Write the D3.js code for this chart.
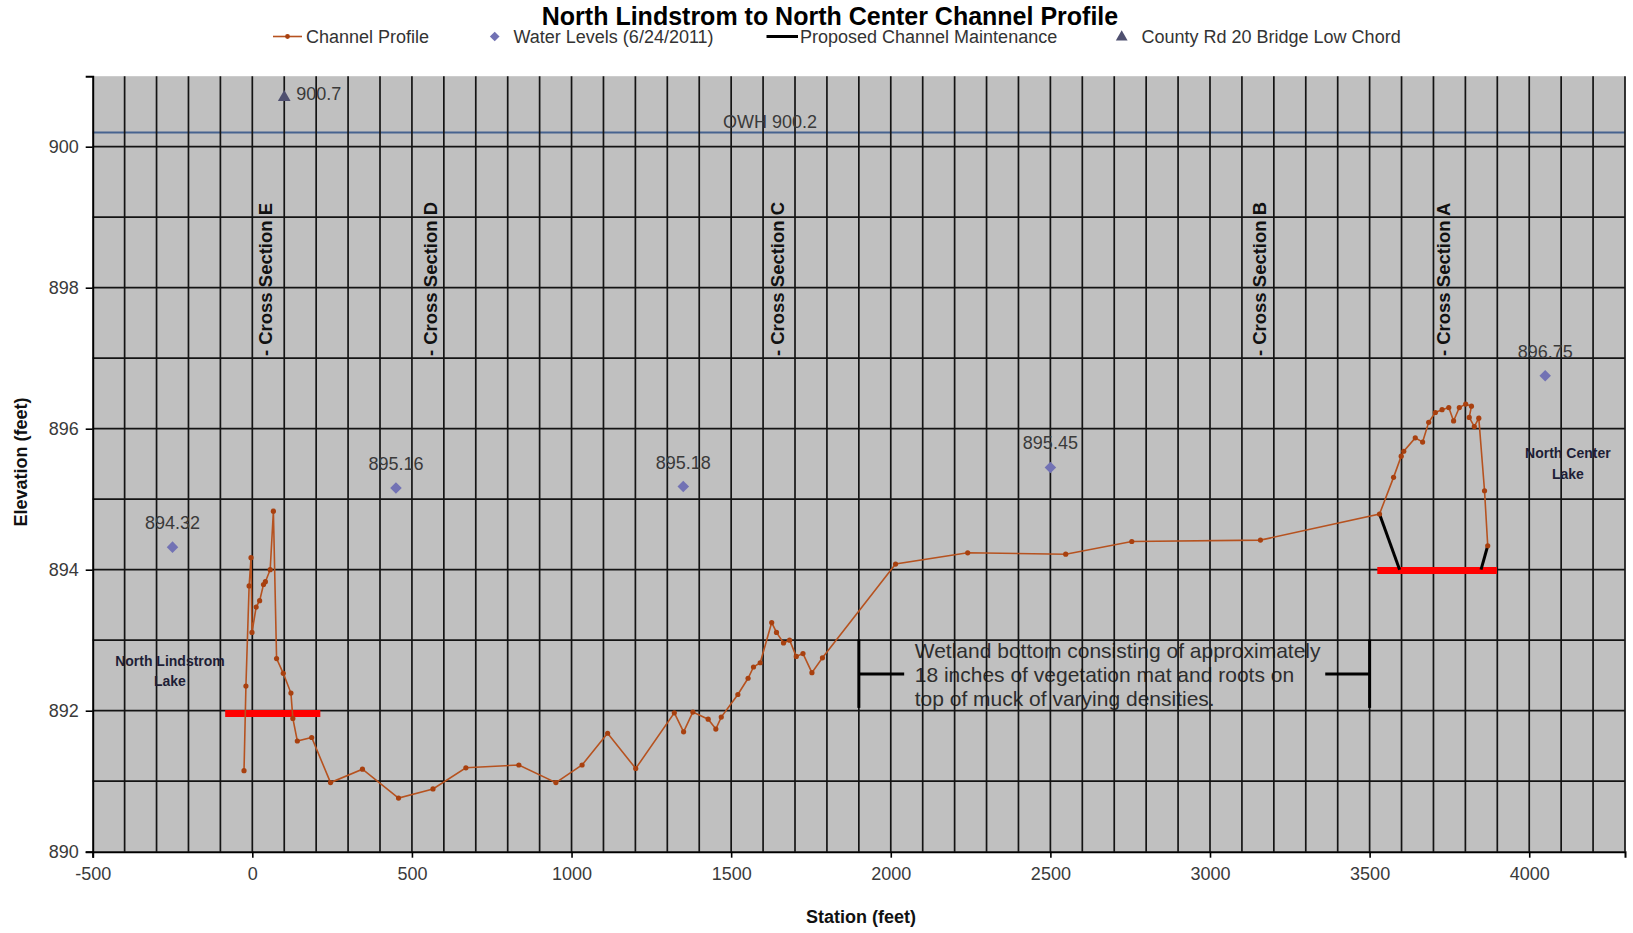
<!DOCTYPE html>
<html>
<head>
<meta charset="utf-8">
<script src="https://cdn.jsdelivr.net/npm/d3@7"></script>
<style>
  html, body { margin: 0; padding: 0; background: #ffffff; }
  svg { display: block; font-family: "Liberation Sans", Arial, sans-serif; }
</style>
</head>
<body>
<svg id="chart" width="1633" height="933"></svg>
<script>
// ---------------- data ----------------
const profileStation = [-26, -20, -10, -4, -1, 12, 23, 35, 41, 56, 66, 76, 97, 121, 127, 141, 186, 245, 345, 458,
  566, 669, 835, 951, 1033, 1113, 1201, 1322, 1351, 1380, 1428, 1452, 1469, 1521, 1553, 1570, 1591, 1627, 1642,
  1664, 1683, 1704, 1725, 1753, 1786, 2015, 2241, 2548, 2755, 3158, 3531, 3575, 3599, 3607, 3643, 3666, 3685,
  3706, 3727, 3748, 3763, 3781, 3801, 3819, 3812, 3828, 3842, 3860, 3870];
const profileElev = [891.15, 892.35, 893.77, 894.17, 893.11, 893.47, 893.56, 893.79, 893.83, 894.0, 894.83, 892.74,
  892.53, 892.25, 891.89, 891.57, 891.62, 890.98, 891.17, 890.76, 890.89, 891.19, 891.23, 890.98, 891.23, 891.68,
  891.18, 891.97, 891.70, 891.98, 891.88, 891.74, 891.91, 892.23, 892.46, 892.62, 892.68, 893.25, 893.11, 892.96,
  893.0, 892.77, 892.81, 892.54, 892.75, 894.08, 894.24, 894.22, 894.40, 894.42, 894.79, 895.31, 895.61, 895.68,
  895.87, 895.81, 896.09, 896.23, 896.27, 896.30, 896.11, 896.30, 896.35, 896.32, 896.16, 896.03, 896.15, 895.12,
  894.34];

const waterStation = [-250, 450, 1350, 2500, 4050];
const waterElev = [894.32, 895.16, 895.18, 895.45, 896.75];

const bridgeStation = [100];
const bridgeElev = [900.7];

const owhElev = 900.2;

// proposed channel maintenance (black segments)
const maintSegStation = [[3531, 3594], [3849, 3870]];
const maintSegElev = [[894.79, 894.0], [894.0, 894.34]];

// proposed cut bottoms (red bars)
const cutStation = [[-85, 213], [3524, 3899]];
const cutElev = [891.96, 893.99];

const crossNames = ["E", "D", "C", "B", "A"];
const crossStation = [42, 558, 1646, 3154, 3733];
const crossBaseElev = 897.03;

const xTicks = [-500, 0, 500, 1000, 1500, 2000, 2500, 3000, 3500, 4000];
const yTicks = [890, 892, 894, 896, 898, 900];

const wetlandText = ["Wetland bottom consisting of approximately",
  "18 inches of vegetation mat and roots on",
  "top of muck of varying densities."];
const wetlandStation = 2075;
const wetlandElev = [892.85, 892.51, 892.18];
const bracketStation = [[1900, 2042], [3500, 3361]];
const bracketElev = [893.01, 892.52, 892.04];

const lakeLabels = [["North Lindstrom", "Lake"], ["North Center", "Lake"]];
const lakeStation = [-258, 4121];
const lakeElev = [[892.71, 892.42], [895.65, 895.35]];

const legendItems = ["Channel Profile", "Water Levels (6/24/2011)", "Proposed Channel Maintenance", "County Rd 20 Bridge Low Chord"];

// ---------------- drawing ----------------
const svg = d3.select("#chart");
const pLeft = 92.7, pRight = 1625, pTop = 76.2, pBottom = 851.7;
const x = d3.scaleLinear().domain([-500, 4300]).range([pLeft, pRight]);
const y = d3.scaleLinear().domain([890, 901]).range([pBottom, pTop]);

const profileColor = "#b6521f";
const markerColor = "#a8400f";
const waterColor = "#7272b4";
const bridgeColor = "#4f5070";

// title
svg.append("text").attr("x", 830).attr("y", 25).attr("text-anchor", "middle")
  .attr("font-size", 25).attr("font-weight", "bold").attr("fill", "#000")
  .text("North Lindstrom to North Center Channel Profile");

// legend
const lg = svg.append("g").attr("font-size", 18).attr("fill", "#333");
lg.append("line").attr("x1", 273).attr("x2", 302).attr("y1", 36.5).attr("y2", 36.5)
  .attr("stroke", profileColor).attr("stroke-width", 1.6);
lg.append("circle").attr("cx", 287.5).attr("cy", 36.5).attr("r", 2.4).attr("fill", markerColor);
lg.append("text").attr("x", 306).attr("y", 43).text(legendItems[0]);
lg.append("path").attr("d", d3.symbol(d3.symbolDiamond2, 60)()).attr("transform", "translate(494.7,36.5)").attr("fill", waterColor);
lg.append("text").attr("x", 513.5).attr("y", 43).text(legendItems[1]);
lg.append("line").attr("x1", 766.5).attr("x2", 798).attr("y1", 36.5).attr("y2", 36.5)
  .attr("stroke", "#000").attr("stroke-width", 3);
lg.append("text").attr("x", 800).attr("y", 43).text(legendItems[2]);
lg.append("path").attr("d", d3.symbol(d3.symbolTriangle, 60)()).attr("transform", "translate(1121.7,37)").attr("fill", bridgeColor);
lg.append("text").attr("x", 1141.5).attr("y", 43).text(legendItems[3]);

// plot background
svg.append("rect").attr("x", pLeft).attr("y", pTop).attr("width", pRight - pLeft).attr("height", pBottom - pTop)
  .attr("fill", "#c0c0c0");

// wetland annotation (under the grid)
const ann = svg.append("g");
ann.selectAll("text.wet").data(wetlandText).enter().append("text")
  .attr("class", "wet")
  .attr("x", x(wetlandStation)).attr("y", (d, i) => y(wetlandElev[i]) + 7.5)
  .attr("font-size", 21).attr("fill", "#2e2e2e").text(d => d);

// OWH line
svg.append("line").attr("x1", pLeft).attr("x2", pRight).attr("y1", y(owhElev)).attr("y2", y(owhElev))
  .attr("stroke", "#46638f").attr("stroke-width", 2);

// grid
const grid = svg.append("g").attr("stroke", "#141414").attr("stroke-width", 1.7);
grid.selectAll("line.v").data(d3.range(-400, 4301, 100)).enter().append("line")
  .attr("x1", d => x(d)).attr("x2", d => x(d)).attr("y1", pTop).attr("y2", pBottom);
grid.selectAll("line.h").data(d3.range(891, 901, 1)).enter().append("line")
  .attr("x1", pLeft).attr("x2", pRight).attr("y1", d => y(d)).attr("y2", d => y(d));

// axes
const xAxis = svg.append("g").attr("transform", `translate(0,${pBottom})`)
  .call(d3.axisBottom(x).tickValues(xTicks).tickSize(6).tickPadding(10).tickFormat(d => String(d)));
const yAxis = svg.append("g").attr("transform", `translate(${pLeft},0)`)
  .call(d3.axisLeft(y).tickValues(yTicks).tickSize(7).tickPadding(7).tickFormat(d => String(d)));
[xAxis, yAxis].forEach(a => {
  a.selectAll("path.domain").attr("stroke", "#000").attr("stroke-width", 2);
  a.selectAll(".tick line").attr("stroke", "#000").attr("stroke-width", 1.6);
  a.selectAll(".tick text").attr("font-size", 18).attr("fill", "#3a3a3a")
    .attr("font-family", "'Liberation Sans', Arial, sans-serif");
});

// axis titles
svg.append("text").attr("x", 861).attr("y", 923).attr("text-anchor", "middle")
  .attr("font-size", 18).attr("font-weight", "bold").attr("fill", "#111").text("Station (feet)");
svg.append("text").attr("transform", "translate(27,462) rotate(-90)").attr("text-anchor", "middle")
  .attr("font-size", 18).attr("font-weight", "bold").attr("fill", "#111").text("Elevation (feet)");

// OWH label
svg.append("text").attr("x", 770).attr("y", y(owhElev) - 5).attr("text-anchor", "middle")
  .attr("font-size", 18).attr("fill", "#3a3a3a").text("OWH " + owhElev.toFixed(1));

// brackets
const br = svg.append("g").attr("stroke", "#000").attr("stroke-width", 3).attr("fill", "none");
bracketStation.forEach(s => {
  br.append("line").attr("x1", x(s[0])).attr("x2", x(s[0])).attr("y1", y(bracketElev[0])).attr("y2", y(bracketElev[2]));
  br.append("line").attr("x1", x(s[0])).attr("x2", x(s[1])).attr("y1", y(bracketElev[1])).attr("y2", y(bracketElev[1]));
});

// cross-section labels
svg.selectAll("text.xs").data(crossNames).enter().append("text")
  .attr("class", "xs")
  .attr("transform", (d, i) => `translate(${x(crossStation[i])},${y(crossBaseElev)}) rotate(-90)`)
  .attr("dy", "0.35em").attr("font-size", 18.5).attr("font-weight", "bold").attr("fill", "#111")
  .text(d => "- Cross Section " + d);

// lake labels
lakeLabels.forEach((lines, k) => {
  lines.forEach((t, j) => {
    svg.append("text").attr("x", x(lakeStation[k])).attr("y", y(lakeElev[k][j])).attr("dy", "0.35em")
      .attr("text-anchor", "middle").attr("font-size", 14).attr("font-weight", "bold")
      .attr("fill", "#1e1e36").text(t);
  });
});

// red cut bars
svg.selectAll("line.cut").data(cutStation).enter().append("line")
  .attr("x1", d => x(d[0])).attr("x2", d => x(d[1]))
  .attr("y1", (d, i) => y(cutElev[i])).attr("y2", (d, i) => y(cutElev[i]))
  .attr("stroke", "#ff0000").attr("stroke-width", 7);

// proposed channel maintenance
svg.selectAll("line.maint").data(maintSegStation).enter().append("line")
  .attr("x1", d => x(d[0])).attr("x2", d => x(d[1]))
  .attr("y1", (d, i) => y(maintSegElev[i][0])).attr("y2", (d, i) => y(maintSegElev[i][1]))
  .attr("stroke", "#000").attr("stroke-width", 3);

// channel profile
const prof = profileStation.map((s, i) => [s, profileElev[i]]);
svg.append("path").datum(prof)
  .attr("d", d3.line().x(d => x(d[0])).y(d => y(d[1])))
  .attr("fill", "none").attr("stroke", profileColor).attr("stroke-width", 1.6);
svg.selectAll("circle.pp").data(prof).enter().append("circle")
  .attr("class", "pp").attr("cx", d => x(d[0])).attr("cy", d => y(d[1])).attr("r", 2.6).attr("fill", markerColor);

// water levels
svg.selectAll("path.wl").data(waterStation).enter().append("path")
  .attr("d", d3.symbol(d3.symbolDiamond2, 85)())
  .attr("transform", (d, i) => `translate(${x(d)},${y(waterElev[i])})`).attr("fill", waterColor);
svg.selectAll("text.wl").data(waterStation).enter().append("text")
  .attr("x", d => x(d)).attr("y", (d, i) => y(waterElev[i]) - 18)
  .attr("text-anchor", "middle").attr("font-size", 18).attr("fill", "#3a3a3a")
  .text((d, i) => waterElev[i].toFixed(2));

// bridge low chord
svg.selectAll("path.br").data(bridgeStation).enter().append("path")
  .attr("d", d3.symbol(d3.symbolTriangle, 70)())
  .attr("transform", (d, i) => `translate(${x(d)},${y(bridgeElev[i])})`).attr("fill", bridgeColor);
svg.selectAll("text.br").data(bridgeStation).enter().append("text")
  .attr("x", d => x(d) + 12).attr("y", (d, i) => y(bridgeElev[i]) + 3)
  .attr("font-size", 18).attr("fill", "#3a3a3a").text((d, i) => bridgeElev[i].toFixed(1));
</script>
</body>
</html>
